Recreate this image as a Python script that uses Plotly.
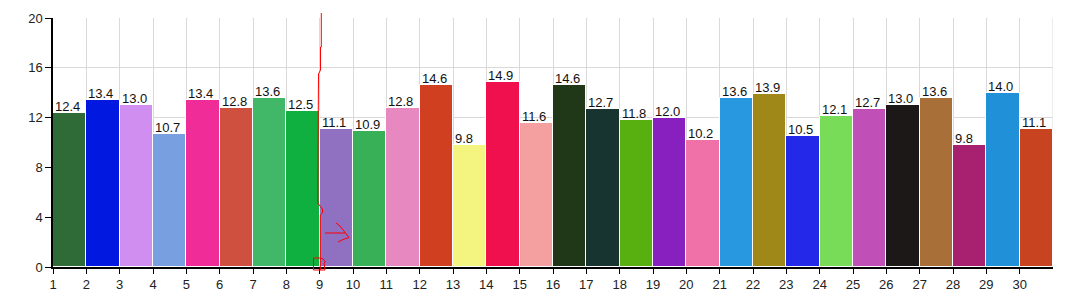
import plotly.graph_objects as go

categories = list(range(1, 31))
values = [12.4, 13.4, 13.0, 10.7, 13.4, 12.8, 13.6, 12.5, 11.1, 10.9,
          12.8, 14.6, 9.8, 14.9, 11.6, 14.6, 12.7, 11.8, 12.0, 10.2,
          13.6, 13.9, 10.5, 12.1, 12.7, 13.0, 13.6, 9.8, 14.0, 11.1]
colors = ["#2f6b36", "#0018e0", "#d08ef0", "#78a0e0", "#f02c98", "#d05040",
          "#40b868", "#10b040", "#9070c0", "#38b058", "#e888c0", "#d04020",
          "#f4f480", "#f0104e", "#f4a0a0", "#203818", "#183430", "#58b010",
          "#8820c0", "#f070a8", "#2898e0", "#a08818", "#2428e8", "#78dc58",
          "#c050b8", "#1c1818", "#a87038", "#a82070", "#2090d8", "#c84420"]

fig = go.Figure()
fig.add_trace(go.Bar(
    x=[c + 0.5 for c in categories], y=values, width=1,
    marker=dict(color=colors, line=dict(color="white", width=1)),
    hoverinfo="skip", showlegend=False,
))

for c, v in zip(categories, values):
    fig.add_annotation(x=c, y=v, text=f"{v:.1f}", showarrow=False,
                       xanchor="left", yanchor="bottom", xshift=0, yshift=-3,
                       font=dict(family="Arial, Liberation Sans", size=13, color="#111"))

# hand-drawn red marks (pixel -> paper coordinates)
L, R, T, B = 53, 1053, 18, 267
def px(x):
    return (x - L) / (R - L)
def py(y):
    return (B - y) / (B - T)

def path(points):
    return "M " + " L ".join(f"{px(a):.5f},{py(b):.5f}" for a, b in points)

red_line = [(321.3, 13), (321.3, 47), (320.5, 47), (320.5, 70), (319.5, 72),
            (318.5, 74), (318.0, 150), (317.8, 203), (320, 206), (322.5, 209),
            (322.5, 213), (320.3, 215), (320.3, 270)]
square = [(320, 258), (313.5, 258), (313.5, 270), (325, 270), (324, 263),
          (325.5, 262), (323, 259), (320, 258)]
arrow_shaft = [(325, 233), (345, 233)]
arrow_head = [(336, 223), (340, 226), (349, 237.5), (343, 239.5), (338, 242)]

for pts in (red_line, square, arrow_shaft, arrow_head):
    fig.add_shape(type="path", xref="paper", yref="paper", path=path(pts),
                  line=dict(color="#ff0000", width=1))

fig.update_layout(
    width=1066, height=297,
    margin=dict(l=53, r=13, t=18, b=30, pad=0, autoexpand=False),
    plot_bgcolor="white", paper_bgcolor="white",
    bargap=0,
    font=dict(family="Arial, Liberation Sans", size=13, color="#222"),
    xaxis=dict(range=[1, 31], tickmode="array", tickvals=categories,
               ticktext=[str(c) for c in categories],
               showgrid=True, gridcolor="#d9d9d9", gridwidth=1,
               showline=True, linecolor="black", linewidth=1.5,
               ticks="outside", ticklen=5, tickcolor="black",
               zeroline=False, fixedrange=True, automargin=False,
               tickfont=dict(size=13)),
    yaxis=dict(range=[0, 20], tickvals=[0, 4, 8, 12, 16, 20],
               showgrid=True, gridcolor="#d9d9d9", gridwidth=1,
               showline=True, linecolor="black", linewidth=1.5,
               ticks="outside", ticklen=6, tickcolor="black",
               zeroline=False, fixedrange=True, automargin=False,
               tickfont=dict(size=13)),
)
fig.add_shape(type="line", xref="x", yref="y", x0=31, x1=31, y0=0, y1=20,
              line=dict(color="#d9d9d9", width=1), layer="below")

fig.write_html("out.html")
